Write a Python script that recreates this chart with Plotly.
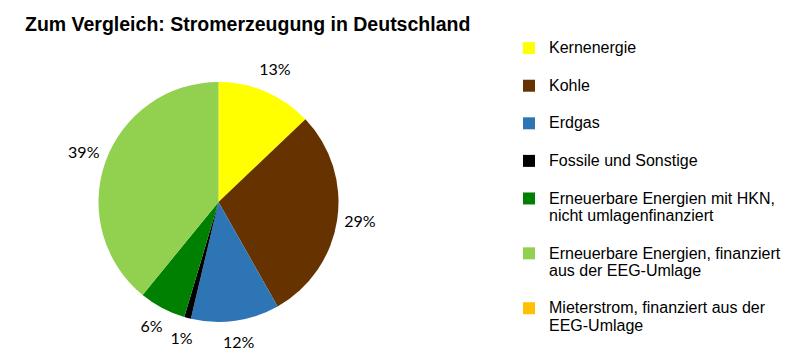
import math
import plotly.graph_objects as go

# Data
categories = [
    "Kernenergie",
    "Kohle",
    "Erdgas",
    "Fossile und Sonstige",
    "Erneuerbare Energien mit HKN,<br>nicht umlagenfinanziert",
    "Erneuerbare Energien, finanziert<br>aus der EEG-Umlage",
    "Mieterstrom, finanziert aus der<br>EEG-Umlage",
]
shares = [12.9, 28.9, 11.9, 0.9, 6.3, 39.1, 0.0]
colors = ["#FFFF00", "#663300", "#2E75B6", "#000000", "#008000", "#92D050", "#FFC000"]

total = sum(shares)
pct_labels = [f"{round(100 * v / total)}%" if v > 0 else "" for v in shares]

# legend labels: a blank trailing line widens the item spacing
legend_labels = ['<span style="font-size:16px">' + c + '</span>' + ('<br>&nbsp;' if i < len(categories) - 1 else '')
                 for i, c in enumerate(categories)]

# figure size (page body adds an 8px margin in the 797x356 window)
W, H = 789, 348
cx, cy, r = 210.5, 194.0, 120.0   # pie centre / radius in figure pixels
label_r = 143.0 / r               # label distance in pie-radius units

# label positions along each slice bisector (clockwise from 12 o'clock)
lab_x, lab_y, lab_t = [], [], []
cum = 0.0
for v, t in zip(shares, pct_labels):
    mid = (cum + v / 2) / total * 2 * math.pi
    cum += v
    if t:
        lab_x.append(label_r * math.sin(mid))
        lab_y.append(label_r * math.cos(mid))
        lab_t.append(t)

fig = go.Figure()
fig.add_trace(
    go.Pie(
        labels=legend_labels,
        values=shares,
        textinfo="none",
        sort=False,
        direction="clockwise",
        rotation=0,
        marker=dict(colors=colors, line=dict(width=0)),
        hoverinfo="label+percent",
        domain=dict(
            x=[(cx - r) / W, (cx + r) / W],
            y=[(H - cy - r) / H, (H - cy + r) / H],
        ),
        showlegend=True,
    )
)
fig.add_trace(
    go.Scatter(
        x=lab_x,
        y=lab_y,
        text=lab_t,
        mode="text",
        textposition="middle center",
        textfont=dict(family="Lato", size=16, color="#000000"),
        hoverinfo="skip",
        showlegend=False,
    )
)

fig.update_layout(
    width=W,
    height=H,
    margin=dict(l=0, r=0, t=0, b=0, autoexpand=False),
    paper_bgcolor="white",
    plot_bgcolor="rgba(0,0,0,0)",
    xaxis=dict(visible=False, range=[-cx / r, (W - cx) / r], domain=[0, 1], fixedrange=True),
    yaxis=dict(visible=False, range=[-(H - cy) / r, cy / r], domain=[0, 1], fixedrange=True),
    title=dict(
        text="<b>Zum Vergleich: Stromerzeugung in Deutschland</b>",
        x=17 / W,
        xanchor="left",
        xref="container",
        y=1 - 16 / H,
        yanchor="middle",
        yref="container",
        font=dict(family="Liberation Sans", size=19.5, color="#000000"),
    ),
    legend=dict(
        x=501 / W,
        xanchor="left",
        y=1 - 25 / H,
        yanchor="top",
        valign="top",
        font=dict(family="Liberation Sans", size=13.3, color="#000000"),
        bgcolor="rgba(0,0,0,0)",
        traceorder="normal",
    ),
)

fig.write_html("out.html")
